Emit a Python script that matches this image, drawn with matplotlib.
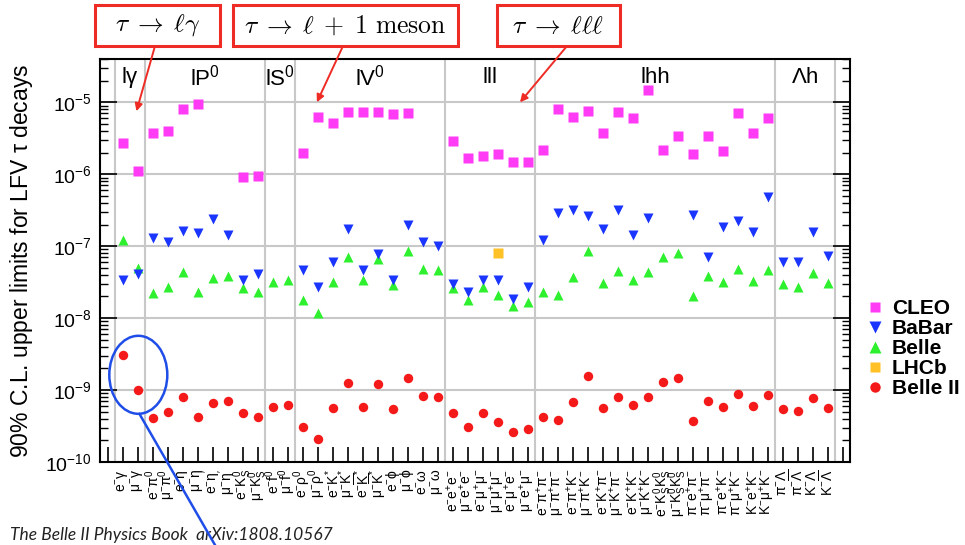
import numpy as np
import matplotlib
matplotlib.use("Agg")
import matplotlib.pyplot as plt
from matplotlib.patches import Rectangle, Ellipse
from matplotlib.lines import Line2D
from matplotlib.ticker import LogLocator, NullFormatter

plt.rcParams['font.family'] = ['Liberation Sans', 'DejaVu Sans']
plt.rcParams['mathtext.fontset'] = 'custom'
plt.rcParams['mathtext.rm'] = 'Liberation Sans'
plt.rcParams['mathtext.it'] = 'Liberation Sans:italic'
plt.rcParams['mathtext.bf'] = 'Liberation Sans:bold'

# ---- decay channels (x categories) ----
channels = [
    r'$\mathrm{e^{-}\gamma}$', r'$\mathrm{\mu^{-}\gamma}$',
    r'$\mathrm{e^{-}\pi^{0}}$', r'$\mathrm{\mu^{-}\pi^{0}}$',
    r'$\mathrm{e^{-}\eta}$', r'$\mathrm{\mu^{-}\eta}$',
    r"$\mathrm{e^{-}\eta'}$", r"$\mathrm{\mu^{-}\eta'}$",
    r'$\mathrm{e^{-}K^{0}_{S}}$', r'$\mathrm{\mu^{-}K^{0}_{S}}$',
    r'$\mathrm{e^{-}f^{0}}$', r'$\mathrm{\mu^{-}f^{0}}$',
    r'$\mathrm{e^{-}\rho^{0}}$', r'$\mathrm{\mu^{-}\rho^{0}}$',
    r'$\mathrm{e^{-}K^{*}}$', r'$\mathrm{\mu^{-}K^{*}}$',
    r'$\mathrm{e^{-}\overline{K}^{*}}$', r'$\mathrm{\mu^{-}\overline{K}^{*}}$',
    r'$\mathrm{e^{-}\phi}$', r'$\mathrm{\mu^{-}\phi}$',
    r'$\mathrm{e^{-}\omega}$', r'$\mathrm{\mu^{-}\omega}$',
    r'$\mathrm{e^{-}e^{+}e^{-}}$', r'$\mathrm{\mu^{-}e^{+}e^{-}}$',
    r'$\mathrm{e^{-}\mu^{+}\mu^{-}}$', r'$\mathrm{\mu^{-}\mu^{+}\mu^{-}}$',
    r'$\mathrm{e^{-}\mu^{+}e^{-}}$', r'$\mathrm{\mu^{-}e^{+}\mu^{-}}$',
    r'$\mathrm{e^{-}\pi^{+}\pi^{-}}$', r'$\mathrm{\mu^{-}\pi^{+}\pi^{-}}$',
    r'$\mathrm{e^{-}\pi^{+}K^{-}}$', r'$\mathrm{\mu^{-}\pi^{+}K^{-}}$',
    r'$\mathrm{e^{-}K^{+}\pi^{-}}$', r'$\mathrm{\mu^{-}K^{+}\pi^{-}}$',
    r'$\mathrm{e^{-}K^{+}K^{-}}$', r'$\mathrm{\mu^{-}K^{+}K^{-}}$',
    r'$\mathrm{e^{-}K^{0}_{S}K^{0}_{S}}$', r'$\mathrm{\mu^{-}K^{0}_{S}K^{0}_{S}}$',
    r'$\mathrm{\pi^{-}e^{+}\pi^{-}}$', r'$\mathrm{\pi^{-}\mu^{+}\pi^{-}}$',
    r'$\mathrm{\pi^{-}e^{+}K^{-}}$', r'$\mathrm{\pi^{-}\mu^{+}K^{-}}$',
    r'$\mathrm{K^{-}e^{+}K^{-}}$', r'$\mathrm{K^{-}\mu^{+}K^{-}}$',
    r'$\mathrm{\pi^{-}\Lambda}$', r'$\mathrm{\pi^{-}\overline{\Lambda}}$',
    r'$\mathrm{K^{-}\Lambda}$', r'$\mathrm{K^{-}\overline{\Lambda}}$',
]

# ---- channel groups ----
group_names = [r'l$\mathrm{\gamma}$', r'lP$^{0}$', r'lS$^{0}$', r'lV$^{0}$', 'lll', 'lhh',
               r'$\mathrm{\Lambda}$h']
group_sizes = [2, 8, 2, 10, 6, 16, 4]

nan = np.nan
# ---- 90% C.L. upper limits per experiment ----
cleo = [2.7e-6, 1.1e-6, 3.7e-6, 4.0e-6, 8.2e-6, 9.6e-6, nan, nan, 9.1e-7, 9.5e-7,
        nan, nan, 2.0e-6, 6.3e-6, 5.1e-6, 7.4e-6, 7.4e-6, 7.4e-6, 6.9e-6, 7.0e-6,
        nan, nan, 2.9e-6, 1.7e-6, 1.8e-6, 1.9e-6, 1.5e-6, 1.5e-6, 2.2e-6, 8.2e-6,
        6.3e-6, 7.5e-6, 3.8e-6, 7.3e-6, 6.0e-6, 1.5e-5, 2.2e-6, 3.4e-6, 1.9e-6, 3.4e-6,
        2.1e-6, 7.0e-6, 3.8e-6, 6.0e-6, nan, nan, nan, nan]

babar = [3.4e-8, 4.1e-8, 1.32e-7, 1.13e-7, 1.64e-7, 1.54e-7, 2.4e-7, 1.45e-7, 3.4e-8, 4.1e-8,
         nan, nan, 4.7e-8, 2.7e-8, 6.1e-8, 1.73e-7, 4.7e-8, 7.8e-8, 3.4e-8, 1.94e-7,
         1.13e-7, 1.02e-7, 3.0e-8, 2.3e-8, 3.4e-8, 3.4e-8, 1.85e-8, 2.7e-8, 1.23e-7, 2.9e-7,
         3.2e-7, 2.65e-7, 1.73e-7, 3.2e-7, 1.45e-7, 2.5e-7, nan, nan, 2.7e-7, 7.1e-8,
         1.84e-7, 2.26e-7, 1.55e-7, 4.9e-7, 6.1e-8, 6.1e-8, 1.55e-7, 7.4e-8]

belle = [1.2e-7, 4.9e-8, 2.2e-8, 2.7e-8, 4.4e-8, 2.3e-8, 3.6e-8, 3.8e-8, 2.6e-8, 2.3e-8,
         3.2e-8, 3.4e-8, 1.8e-8, 1.18e-8, 3.2e-8, 7.1e-8, 3.4e-8, 6.6e-8, 2.9e-8, 8.5e-8,
         4.8e-8, 4.7e-8, 2.6e-8, 1.8e-8, 2.7e-8, 2.1e-8, 1.48e-8, 1.69e-8, 2.3e-8, 2.1e-8,
         3.7e-8, 8.6e-8, 3.1e-8, 4.5e-8, 3.4e-8, 4.4e-8, 7.1e-8, 8.0e-8, 2.0e-8, 3.9e-8,
         3.2e-8, 4.8e-8, 3.3e-8, 4.7e-8, 3.0e-8, 2.75e-8, 4.2e-8, 3.1e-8]

lhcb = [nan] * 48
lhcb[25] = 8.1e-8

belle2 = [3.05e-9, 1.0e-9, 4.1e-10, 5.0e-10, 8.0e-10, 4.2e-10, 6.6e-10, 7.0e-10, 4.8e-10, 4.2e-10,
          5.8e-10, 6.2e-10, 3.1e-10, 2.1e-10, 5.6e-10, 1.24e-9, 5.9e-10, 1.22e-9, 5.4e-10, 1.46e-9,
          8.3e-10, 8.1e-10, 4.8e-10, 3.1e-10, 4.8e-10, 3.6e-10, 2.6e-10, 2.9e-10, 4.2e-10, 3.8e-10,
          6.8e-10, 1.57e-9, 5.6e-10, 8.1e-10, 6.2e-10, 8.0e-10, 1.3e-9, 1.46e-9, 3.7e-10, 7.1e-10,
          5.8e-10, 8.8e-10, 6.0e-10, 8.6e-10, 5.5e-10, 5.1e-10, 7.8e-10, 5.7e-10]

W, H = 965, 545
fig = plt.figure(figsize=(W / 100, H / 100), dpi=100)
ax = fig.add_axes([100 / W, 1 - 462 / H, 750 / W, 403 / H])

col_cleo, col_babar, col_belle = '#ff3bf5', '#1a35ff', '#2ef02e'
col_lhcb, col_belle2 = '#ffc125', '#f51a1a'

x = np.arange(1, len(channels) + 1)
ms = 6.8
ax.plot(x, cleo, ls='none', marker='s', ms=ms, color=col_cleo, mec='none', label='CLEO', zorder=3)
ax.plot(x, belle, ls='none', marker='^', ms=ms + 0.6, color=col_belle, mec='none', label='Belle', zorder=3)
ax.plot(x, babar, ls='none', marker='v', ms=ms + 0.6, color=col_babar, mec='none', label='BaBar', zorder=4)
ax.plot(x, lhcb, ls='none', marker='s', ms=ms, color=col_lhcb, mec='none', label='LHCb', zorder=3)
ax.plot(x, belle2, ls='none', marker='o', ms=ms, color=col_belle2, mec='none', label='Belle II', zorder=3)

ax.set_yscale('log')
ax.set_ylim(1e-10, 4e-5)
ax.set_xlim(-0.5, 49.5)

# grid: decades and group boundaries
grid_col = '#c8c8c8'
for e in range(-9, -4):
    ax.axhline(10.0 ** e, color=grid_col, lw=1.5, zorder=1)
edges = np.cumsum([0] + group_sizes) + 0.5
for e in edges:
    ax.axvline(e, color=grid_col, lw=1.5, zorder=1)

# group labels
ctr = edges[:-1] + np.array(group_sizes) / 2.0
for c, name in zip(ctr, group_names):
    ax.text(c, 0.955, name, transform=ax.get_xaxis_transform(), ha='center', va='center',
            fontsize=16)

ax.yaxis.set_major_locator(LogLocator(base=10, numticks=20))
ax.yaxis.set_minor_locator(LogLocator(base=10, subs=np.arange(2, 10), numticks=20))
ax.yaxis.set_minor_formatter(NullFormatter())
ax.tick_params(axis='y', which='major', direction='in', left=True, right=True, length=12,
               width=1.2, labelsize=14, pad=6)
ax.tick_params(axis='y', which='minor', direction='in', left=True, right=True, length=6, width=1.0)

ax.set_xticks(np.arange(0, 50))
ax.set_xticklabels([''] + channels + [''], rotation=90, fontsize=10)
ax.tick_params(axis='x', which='major', direction='in', bottom=True, top=False, length=11,
               width=1.2, pad=5)
for lbl in ax.get_xticklabels():
    lbl.set_va('top')
    lbl.set_ha('center')

for s in ax.spines.values():
    s.set_linewidth(1.5)

ax.set_ylabel(r'90% C.L. upper limits for LFV $\mathrm{\tau}$ decays', fontsize=16.5)
ax.yaxis.set_label_coords(-0.087, 0.5)

# legend
handles = [
    Line2D([], [], ls='none', marker='s', ms=7.5, color=col_cleo, mec='none', label='CLEO'),
    Line2D([], [], ls='none', marker='v', ms=8, color=col_babar, mec='none', label='BaBar'),
    Line2D([], [], ls='none', marker='^', ms=8, color=col_belle, mec='none', label='Belle'),
    Line2D([], [], ls='none', marker='s', ms=7.5, color=col_lhcb, mec='none', label='LHCb'),
    Line2D([], [], ls='none', marker='o', ms=7.5, color=col_belle2, mec='none', label='Belle II'),
]
fig.legend(handles=handles, loc='upper left', bbox_to_anchor=(866 / W, 1 - 299 / H),
           bbox_transform=fig.transFigure, frameon=False,
           prop=dict(weight='bold', size=15), handlelength=0.9, handletextpad=0.35,
           labelspacing=0.05, borderpad=0, borderaxespad=0)


def fx(px):
    return px / W


def fy(py):
    return 1 - py / H


red = '#ee2b24'
boxes = [
    (95, 220, r'$\tau\;\rightarrow\;\ell\gamma$', (155, 46), (1.93, 7.5e-6)),
    (233, 458, r'$\tau\;\rightarrow\;\ell\;+\;1\ \mathrm{meson}$', (343, 46), (13.96, 1.0e-5)),
    (497, 620, r'$\tau\;\rightarrow\;\ell\ell\ell$', (567, 46), (27.5, 1.0e-5)),
]
for x0, x1, txt, start, tip in boxes:
    fig.patches.append(Rectangle((fx(x0), fy(46)), fx(x1 - x0), 41 / H, transform=fig.transFigure,
                                 facecolor='white', edgecolor=red, lw=2.2, zorder=5))
    fig.text(fx((x0 + x1) / 2), fy(25.5), txt, ha='center', va='center', fontsize=18.5,
             math_fontfamily='cm', zorder=6)
    ax.annotate('', xy=tip, xycoords='data', xytext=(fx(start[0]), fy(start[1])),
                textcoords='figure fraction',
                arrowprops=dict(arrowstyle='-|>', color=red, lw=1.4, mutation_scale=11,
                                shrinkA=0, shrinkB=0), annotation_clip=False)

# ellipse around the radiative channels
blue = '#1f4de8'
fig.patches.append(Ellipse((fx(138.3), fy(374.8)), 58 / W, 78 / H, transform=fig.transFigure,
                           facecolor='none', edgecolor=blue, lw=1.8, zorder=6))
fig.lines.append(Line2D([fx(139.5), fx(215)], [fy(414), fy(545)], transform=fig.transFigure,
                        color=blue, lw=1.8, zorder=6))

fig.text(fx(10), fy(535), 'The Belle II Physics Book  arXiv:1808.10567', ha='left', va='center',
         fontsize=12.5, style='italic', family=['Lato', 'DejaVu Sans'], color='#222222')

fig.savefig('out.png', dpi=100)
